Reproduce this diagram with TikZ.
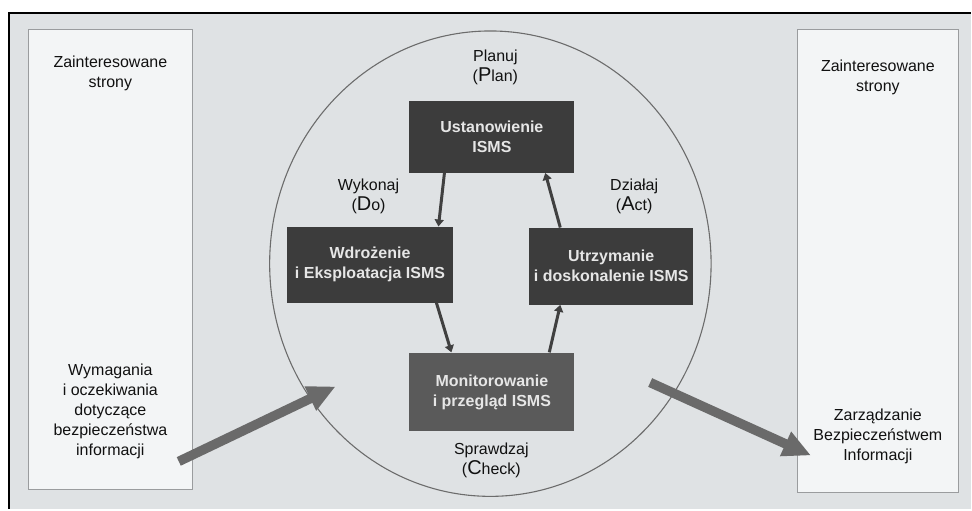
\documentclass[tikz,border=0pt]{standalone}
\usepackage{fontspec}
\setmainfont{Liberation Sans}
\usetikzlibrary{arrows.meta,calc}

\definecolor{paper}{HTML}{DFE2E4}
\definecolor{sidefill}{HTML}{F3F5F6}
\definecolor{sideline}{HTML}{9A9C9E}
\definecolor{darkbox}{HTML}{3C3C3C}
\definecolor{midbox}{HTML}{5A5A5A}
\definecolor{boxtext}{HTML}{E6E6E6}
\definecolor{ink}{HTML}{111111}
\definecolor{flow}{HTML}{404040}
\definecolor{bigflow}{HTML}{6A6A6A}

\tikzset{
  sidebox/.style={draw=sideline, line width=0.9pt, fill=sidefill,
    minimum width=#1, inner sep=0pt},
  phasebox/.style={fill=#1, text=boxtext, font=\fontsize{16}{20}\selectfont\bfseries,
    align=center, inner sep=0pt},
  lbl/.style={text=ink, font=\fontsize{16}{20}\selectfont, align=center, inner sep=0pt},
  cycle/.style={draw=flow, line width=3pt, -{Triangle[length=7pt,width=9pt]}},
  bigarrow/.style={draw=bigflow, line width=9.5pt,
    -{Triangle[length=28pt,width=25pt]}},
}
\newcommand{\bigL}[1]{{\fontsize{20}{20}\selectfont #1}}

\begin{document}
\begin{tikzpicture}[x=1pt,y=-1pt]
  % page and frame
  \fill[white] (0,0) rectangle (972,510);
  \fill[paper] (9,13) rectangle (972,510);
  \draw[black, line width=2.5pt] (972,13) -- (9,13) -- (9,510);
  \useasboundingbox (0,0) rectangle (972,510);

  % stakeholder columns
  \node[sidebox=165pt, minimum height=461pt] (left) at (110.5,259.5) {};
  \node[sidebox=162pt, minimum height=464pt] (right) at (879,261) {};

  \node[lbl] (leftTop) at (110.5,73) {Zainteresowane\\strony};
  \node[lbl] (leftBot) at (110.5,412) {Wymagania\\i oczekiwania\\dotyczące\\bezpieczeństwa\\informacji};
  \node[lbl] (rightTop) at (879,77) {Zainteresowane\\strony};
  \node[lbl] (rightBot) at (879,437) {Zarządzanie\\Bezpieczeństwem\\Informacji};

  % cycle ring
  \draw[gray!85!black, line width=1.1pt] (491,264) ellipse [x radius=221pt, y radius=233pt];

  % phase boxes
  \node[phasebox=darkbox, minimum width=165pt, minimum height=72pt] (plan) at (492.5,137) {Ustanowienie\\ISMS};
  \node[phasebox=darkbox, minimum width=167pt, minimum height=76pt] (do) at (370.5,265) {Wdrożenie\\i Eksploatacja ISMS};
  \node[phasebox=darkbox, minimum width=164pt, minimum height=77pt] (act) at (612,266.5) {Utrzymanie\\i doskonalenie ISMS};
  \node[phasebox=midbox, minimum width=165pt, minimum height=79pt] (check) at (492.5,392.5) {Monitorowanie\\i przegląd ISMS};

  % phase names
  \node[lbl] (planLbl) at (496,67) {Planuj\\(\bigL{P}lan)};
  \node[lbl] (doLbl) at (369,197) {Wykonaj\\(\bigL{D}o)};
  \node[lbl] (actLbl) at (635,197) {Działaj\\(\bigL{A}ct)};
  \node[lbl] (checkLbl) at (492,461) {Sprawdzaj\\(\bigL{C}heck)};

  % PDCA cycle
  \draw[cycle] ([xshift=-47.5pt]plan.south) -- ([xshift=68.5pt]do.north);
  \draw[cycle] ([xshift=66.5pt]do.south) -- ([xshift=-40.5pt]check.north);
  \draw[cycle] ([xshift=57.5pt]check.north) -- ([xshift=-51pt]act.south);
  \draw[cycle] ([xshift=-51pt]act.north) -- ([xshift=53.5pt]plan.south);

  % inputs and outputs
  \coordinate (inTail) at (179,462);
  \coordinate (inTip) at (336,387);
  \coordinate (outTail) at (651,383);
  \coordinate (outTip) at (812,456);
  \draw[bigarrow] (inTail) -- (inTip);
  \draw[bigarrow] (outTail) -- (outTip);
\end{tikzpicture}
\end{document}
